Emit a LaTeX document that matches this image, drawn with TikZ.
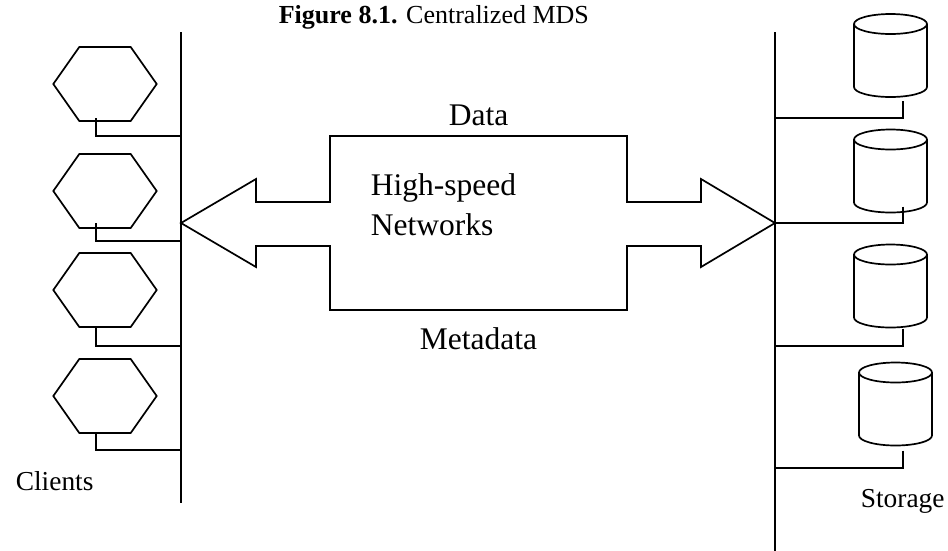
\documentclass[tikz,border=0pt]{standalone}
\usepackage{fontspec}
\setmainfont{Liberation Serif}
\begin{document}
\begin{tikzpicture}[x=1pt,y=1pt,line width=1.7pt,line join=miter,
  frame/.style={draw=none,minimum width=#1,inner sep=0pt,outer sep=0pt},
  hexframe/.style={frame=103.4,minimum height=74},
  cylframe/.style={frame=73,minimum height=83},
  lbl/.style={inner sep=0pt,anchor=base west,font=\fontsize{31.5}{38}\selectfont},
  side/.style={inner sep=0pt,anchor=base west,font=\fontsize{27.4}{33}\selectfont}]
\useasboundingbox (0,0) rectangle (948,-550);

% title
\node[inner sep=0pt,anchor=base west,font=\fontsize{26}{31}\selectfont] (title) at (278,-23)
  {\textbf{Figure 8.1.} Centralized MDS};

% client bus and storage bus
\coordinate (lbtop) at (181,-32);
\coordinate (lbbot) at (181,-503);
\coordinate (rbtop) at (775,-32);
\coordinate (rbbot) at (775,-551);
\draw (lbtop) -- (lbbot);
\draw (rbtop) -- (rbbot);

% clients (hexagons)
\foreach \n/\y in {h1/84, h2/191, h3/290, h4/396}{
  \node[hexframe] (\n) at (105,-\y) {};
  \draw (\n.west) -- ([xshift=26]\n.north west) -- ([xshift=-26]\n.north east)
        -- (\n.east) -- ([xshift=-26]\n.south east) -- ([xshift=26]\n.south west) -- cycle;
}
% client taps onto the bus
\coordinate (lb1) at (181,-136);
\coordinate (lb2) at (181,-241);
\coordinate (lb3) at (181,-346);
\coordinate (lb4) at (181,-450);
\draw ([xshift=-9,yshift=3]h1.south) |- (lb1);
\draw ([xshift=-9,yshift=5]h2.south) |- (lb2);
\draw ([xshift=-9]h3.south) |- (lb3);
\draw ([xshift=-9]h4.south) |- (lb4);

% storage (cylinders)
\foreach \n/\x/\y in {s1/890.5/55.5, s2/890.5/171, s3/890.5/286, s4/895.5/404}{
  \node[cylframe] (\n) at (\x,-\y) {};
  \draw ([yshift=-10]\n.north) ellipse [x radius=36.5, y radius=10];
  \draw ([yshift=-10]\n.north west) -- ([yshift=10]\n.south west)
        arc[start angle=180, end angle=360, x radius=36.5, y radius=10]
        -- ([yshift=-10]\n.north east);
}
% storage taps onto the bus
\coordinate (rb1) at (775,-118);
\coordinate (rb2) at (775,-223);
\coordinate (rb3) at (775,-346);
\coordinate (rb4) at (775,-468);
\draw ([xshift=12.5,yshift=-4]s1.south) |- (rb1);
\draw ([xshift=12.5,yshift=6]s2.south) |- (rb2);
\draw ([xshift=12.5,yshift=-1]s3.south) |- (rb3);
\draw ([xshift=7.5,yshift=-5]s4.south) |- (rb4);

% high-speed network: double arrow with a central box
\coordinate (ltip) at (181,-223);
\coordinate (rtip) at (775,-223);
\draw (ltip) -- (256,-179) -- (256,-202) -- (330,-202) -- (330,-136)
  -- (627,-136) -- (627,-202) -- (701,-202) -- (701,-179) -- (rtip)
  -- (701,-267) -- (701,-246) -- (627,-246) -- (627,-310) -- (330,-310)
  -- (330,-246) -- (256,-246) -- (256,-267) -- cycle;

% labels
\node[lbl] (data) at (448,-125) {Data};
\node[lbl] (net1) at (370,-195) {High-speed};
\node[lbl] (net2) at (370,-235) {Networks};
\node[lbl] (meta) at (419,-349) {Metadata};
\node[side] (clients) at (15,-490) {Clients};
\node[side] (storage) at (860,-507) {Storage};
\end{tikzpicture}
\end{document}
